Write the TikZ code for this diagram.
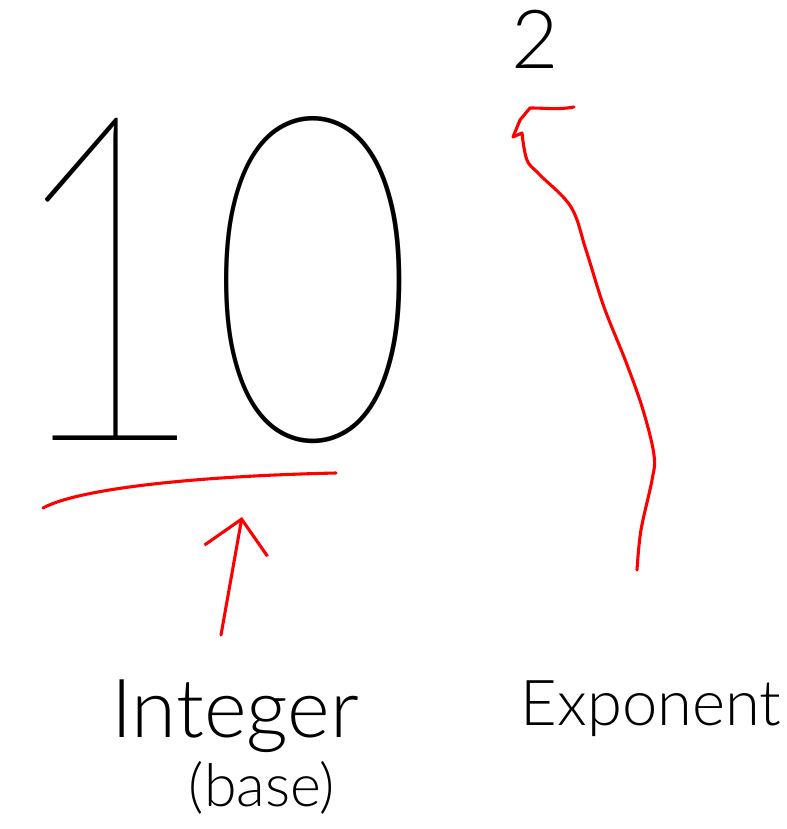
\documentclass[tikz,border=0pt]{standalone}
\usepackage{fontspec}
\newfontfamily\hairfont{Lato Hairline}
\newfontfamily\penfont{Lato Light}
\usetikzlibrary{arrows.meta, positioning}

\begin{document}
\begin{tikzpicture}[x=0.025cm, y=-0.025cm,
    pen/.style={line width=2.2pt, line cap=round, line join=round},
    redpen/.style={pen, red},
    lbl/.style={inner sep=0pt, anchor=base},
    arr/.style={redpen, -{Straight Barb[length=8mm, width=16mm]}},
  ]
  \useasboundingbox (0,0) rectangle (787,829);
  % --- the number and its power -------------------------------------
  \node[lbl, font=\hairfont\fontsize{310}{310}\selectfont] (num) at (210,440)
    {\scalebox{0.82}[1.05]{10}};
  \node[lbl, font=\penfont\fontsize{58}{58}\selectfont] (two) at (535,68) {2};
  % --- labels underneath --------------------------------------------
  \node[lbl, font=\penfont\fontsize{58}{58}\selectfont] (integer) at (235,737) {Integer};
  \node[lbl, font=\penfont\fontsize{42}{42}\selectfont] (base) at (262,806) {(base)};
  \node[lbl, font=\penfont\fontsize{45}{45}\selectfont] (expo) at (651,725) {Exponent};
  % --- red marks ----------------------------------------------------
  \draw[redpen] (43,508) .. controls (80,488) and (200,476) .. (336,473);
  \coordinate (inttail) at (221,635);
  \coordinate (inttip) at (242,517);
  \draw[arr] (inttail) -- (inttip);
  \coordinate (exptail) at (637,570);
  \draw[redpen] (exptail) -- plot[smooth, tension=0.6] coordinates {
      (637,570) (641,530) (652,480) (654,455) (643,410) (626,362)
      (604,307) (586,250) (571,207) (540,175) (527,160) (522,133)}
    -- (513,137) -- (520,120) -- (530,108)
    to[out=0, in=190] (574,107);
\end{tikzpicture}
\end{document}
